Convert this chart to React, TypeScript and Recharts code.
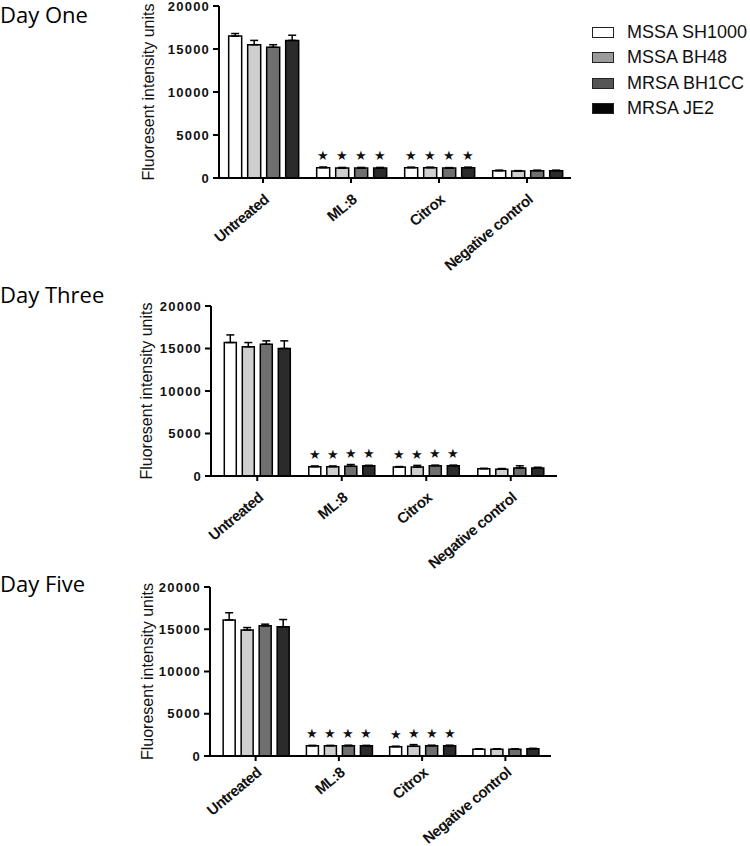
import { BarChart, Bar, XAxis, YAxis, ErrorBar, LabelList, Legend } from 'recharts';

const categories = ['Untreated', 'ML:8', 'Citrox', 'Negative control'];
const strains = ['MSSA SH1000', 'MSSA BH48', 'MRSA BH1CC', 'MRSA JE2'];
const barColors = ['#ffffff', '#cfcfcf', '#6f6f6f', '#2b2b2b'];
const legendColors = ['#ffffff', '#9b9b9b', '#555555', '#050505'];
const significant = [false, true, true, false];
const yTicks = [0, 5000, 10000, 15000, 20000];

// rows = strains, columns = categories
const dayOneMeans = [
  [16500, 1200, 1200, 850],
  [15500, 1150, 1200, 800],
  [15200, 1150, 1150, 850],
  [16000, 1150, 1200, 850],
];
const dayOneErrors = [
  [300, 80, 60, 60],
  [500, 80, 60, 60],
  [300, 80, 60, 60],
  [600, 80, 60, 60],
];

const dayThreeMeans = [
  [15700, 1100, 1050, 850],
  [15200, 1100, 1050, 800],
  [15500, 1150, 1200, 950],
  [15000, 1200, 1200, 950],
];
const dayThreeErrors = [
  [900, 80, 60, 60],
  [500, 80, 200, 80],
  [400, 200, 80, 250],
  [900, 60, 80, 80],
];

const dayFiveMeans = [
  [16100, 1200, 1100, 800],
  [14900, 1200, 1150, 800],
  [15400, 1200, 1200, 800],
  [15300, 1200, 1200, 850],
];
const dayFiveErrors = [
  [850, 60, 60, 60],
  [300, 60, 200, 60],
  [200, 80, 80, 60],
  [850, 60, 80, 60],
];

const FONT = 'Liberation Sans, Arial, sans-serif';

function buildRows(means: number[][], errors: number[][]) {
  return categories.map((name, i) => {
    const row: Record<string, unknown> = { name };
    strains.forEach((_, s) => {
      row[`v${s}`] = means[s][i];
      row[`e${s}`] = [0, errors[s][i]];
      row[`s${s}`] = significant[i] ? '★' : '';
    });
    return row;
  });
}

function StrainLegend() {
  return (
    <div style={{ fontFamily: FONT, fontSize: 18, color: '#111' }}>
      {strains.map((s, i) => (
        <div key={s} style={{ display: 'flex', alignItems: 'center', height: 25.3, whiteSpace: 'nowrap' }}>
          <span
            style={{
              display: 'inline-block',
              width: 20,
              height: 9,
              background: legendColors[i],
              border: '1.5px solid #222',
              marginRight: 13,
            }}
          />
          {s}
        </div>
      ))}
    </div>
  );
}

interface DayChartProps {
  title: string;
  rows: Record<string, unknown>[];
  top: number;
  height: number;
  titleTop: number;
  axisX: number;
  plotTop: number;
  plotHeight: number;
  plotRight: number;
  padX: number;
  labelX: number;
  labelGap: number;
  showLegend?: boolean;
}

function DayChart({
  title,
  rows,
  top,
  height,
  titleTop,
  axisX,
  plotTop,
  plotHeight,
  plotRight,
  padX,
  labelX,
  labelGap,
  showLegend = false,
}: DayChartProps) {
  const marginTop = plotTop - top;
  const yWidth = 80;
  return (
    <>
      <div
        style={{
          position: 'absolute',
          left: 0,
          top: titleTop,
          fontFamily: '"Open Sans", sans-serif',
          fontSize: 22,
          lineHeight: '26px',
          color: '#000',
          zIndex: 2,
        }}
      >
        {title}
      </div>
      <div style={{ position: 'absolute', left: 0, top, width: 750, height, fontFamily: FONT }}>
        <BarChart
          width={750}
          height={height}
          data={rows}
          margin={{ top: marginTop, right: 750 - plotRight, left: axisX - yWidth, bottom: 0 }}
          barCategoryGap="11%"
          barGap={6}
          style={{ overflow: 'visible', fontFamily: FONT }}
        >
          <XAxis
            dataKey="name"
            interval={0}
            height={height - marginTop - plotHeight}
            padding={{ left: padX, right: padX }}
            angle={-40}
            textAnchor="end"
            tickSize={5}
            tickMargin={labelGap}
            tick={{ fontSize: 15, fontWeight: 'bold', fill: '#111', fontFamily: FONT, letterSpacing: -0.5 }}
            axisLine={{ stroke: '#000', strokeWidth: 2 }}
            tickLine={{ stroke: '#000', strokeWidth: 2 }}
          />
          <YAxis
            width={yWidth}
            domain={[0, 20000]}
            ticks={yTicks}
            interval={0}
            tickSize={6}
            tickMargin={3}
            tick={{ fontSize: 13, fontWeight: 'bold', fill: '#111', fontFamily: FONT, letterSpacing: 1.2 }}
            axisLine={{ stroke: '#000', strokeWidth: 2 }}
            tickLine={{ stroke: '#000', strokeWidth: 2 }}
            label={{
              value: 'Fluoresent intensity units',
              angle: -90,
              position: 'insideLeft',
              offset: labelX - (axisX - yWidth),
              style: { textAnchor: 'middle', fontSize: 16, fill: '#111', fontFamily: FONT },
            }}
          />
          {showLegend && (
            <Legend
              layout="horizontal"
              verticalAlign="middle"
              align="center"
              content={() => <StrainLegend />}
              wrapperStyle={{ position: 'absolute', left: 592, top: 20 - top, width: 158 }}
            />
          )}
          {strains.map((s, i) => (
            <Bar
              key={s}
              dataKey={`v${i}`}
              name={s}
              fill={barColors[i]}
              stroke="#000"
              strokeWidth={1.5}
              isAnimationActive={false}
            >
              <ErrorBar
                dataKey={`e${i}`}
                direction="y"
                width={4}
                stroke="#000"
                strokeWidth={1.5}
                isAnimationActive={false}
              />
              <LabelList
                dataKey={`s${i}`}
                position="top"
                offset={8}
                fontSize={13}
                fill="#111"
              />
            </Bar>
          ))}
        </BarChart>
      </div>
    </>
  );
}

export default function App() {
  return (
    <div style={{ position: 'relative', width: 750, height: 846, background: '#fff', overflow: 'hidden' }}>
      <style>{'body{margin:0}'}</style>
      <DayChart
        title="Day One"
        rows={buildRows(dayOneMeans, dayOneErrors)}
        top={0}
        height={290}
        titleTop={1}
        axisX={219}
        plotTop={6}
        plotHeight={172}
        plotRight={571}
        padX={0}
        labelX={148}
        labelGap={10}
        showLegend
      />
      <DayChart
        title="Day Three"
        rows={buildRows(dayThreeMeans, dayThreeErrors)}
        top={290}
        height={290}
        titleTop={281}
        axisX={211}
        plotTop={306}
        plotHeight={170}
        plotRight={557}
        padX={4}
        labelX={146}
        labelGap={10}
      />
      <DayChart
        title="Day Five"
        rows={buildRows(dayFiveMeans, dayFiveErrors)}
        top={580}
        height={266}
        titleTop={570}
        axisX={210}
        plotTop={587}
        plotHeight={169}
        plotRight={551}
        padX={4}
        labelX={147}
        labelGap={5}
      />
    </div>
  );
}
